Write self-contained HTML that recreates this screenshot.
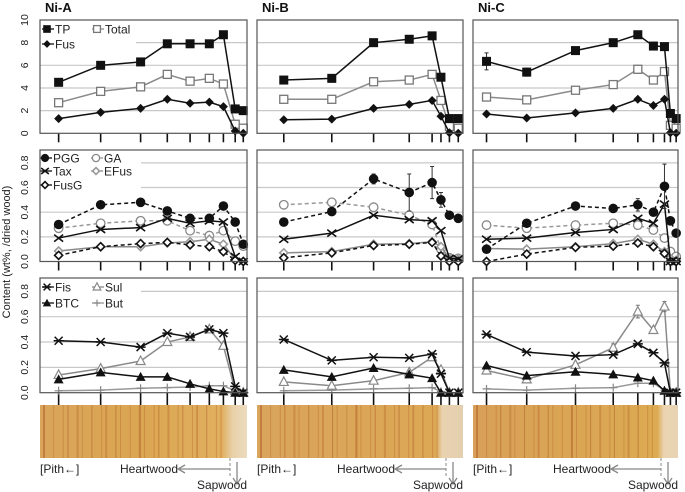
<!DOCTYPE html>
<html><head><meta charset="utf-8">
<style>
html,body{margin:0;padding:0;background:#fff;}
svg{display:block;font-family:"Liberation Sans",sans-serif;}
</style></head>
<body>
<svg id="chart" width="685" height="492" viewBox="0 0 685 492" xmlns="http://www.w3.org/2000/svg">
<defs>
<linearGradient id="woodA" x1="0" x2="1" y1="0" y2="0">
<stop offset="0" stop-color="#d9a55a"/><stop offset="0.5" stop-color="#dba652"/><stop offset="0.88" stop-color="#e0b060"/><stop offset="0.93" stop-color="#e8d0a8"/><stop offset="1" stop-color="#ecdcc0"/>
</linearGradient>
<linearGradient id="woodB" x1="0" x2="1" y1="0" y2="0">
<stop offset="0" stop-color="#d9a45c"/><stop offset="0.87" stop-color="#dca855"/><stop offset="0.9" stop-color="#e8d2b0"/><stop offset="1" stop-color="#e4cfb0"/>
</linearGradient>
<linearGradient id="woodC" x1="0" x2="1" y1="0" y2="0">
<stop offset="0" stop-color="#d8a058"/><stop offset="0.9" stop-color="#dcaa52"/><stop offset="0.93" stop-color="#ead4b0"/><stop offset="1" stop-color="#e8d4b4"/>
</linearGradient>
</defs>
</svg>
<script>
// ---- data ----
const panelNames = ["Ni-A","Ni-B","Ni-C"];
const distA = [9,29.3,48.6,61.5,72.5,81.8,88.6,94.3,98.2];
const distB = [13,36.3,56.6,73.9,85,89.3,93.4,97.7];
const distC = [6.6,26.2,50,68.4,80.4,88,93.4,96.3,99.1];
const topTicks = [0,2,4,6,8,10];
const fracTicks = [0.0,0.2,0.4,0.6,0.8];
const fracTickLabels = ["0.0","0.2","0.4","0.6","0.8"];

const tpA=[4.5,6.0,6.3,7.9,7.9,7.9,8.7,2.15,2.0];
const totalA=[2.7,3.7,4.1,5.2,4.6,4.85,4.35,0.8,0.45];
const fusA=[1.3,1.85,2.2,3.0,2.65,2.75,2.35,0.2,0.0];
const tpB=[4.7,4.85,8.0,8.3,8.6,4.95,1.3,1.3];
const totalB=[3.0,3.0,4.55,4.7,5.2,2.9,0.6,0.45];
const fusB=[1.2,1.25,2.2,2.55,2.9,1.5,0.05,0.0];
const tpC=[6.35,5.4,7.3,8.0,8.7,7.7,7.65,1.75,1.3];
const tpCerr=[0.75,0.35,0.2,0,0,0,0,0,0];
const totalC=[3.2,2.95,3.8,4.3,5.65,4.7,5.45,0.7,0.45];
const totalCerr=[0,0,0,0,0.35,0,0.35,0,0];
const fusC=[1.7,1.35,1.8,2.2,3.0,2.45,3.0,0.05,0.0];

const pggA=[0.30,0.46,0.48,0.41,0.35,0.35,0.45,0.32,0.14];
const gaA=[0.27,0.31,0.33,0.33,0.25,0.21,0.25,0.165,0.125];
const taxA=[0.19,0.26,0.275,0.35,0.31,0.33,0.32,0.04,0.0];
const efusA=[0.085,0.12,0.12,0.15,0.16,0.18,0.14,0.015,0.0];
const fusgA=[0.05,0.12,0.145,0.155,0.135,0.12,0.08,0.01,0.0];
const pggB=[0.32,0.405,0.67,0.56,0.64,0.50,0.375,0.35];
const pggBerr=[0,0,0.04,0.15,0.13,0.06,0,0];
const gaB=[0.46,0.48,0.44,0.375,0.30,0.10,0.03,0.025];
const taxB=[0.18,0.23,0.375,0.34,0.33,0.25,0.025,0.02];
const efusB=[0.07,0.08,0.14,0.145,0.16,0.12,0.025,0.02];
const fusgB=[0.03,0.07,0.13,0.14,0.155,0.045,0.0,0.0];
const pggC=[0.10,0.31,0.45,0.43,0.46,0.40,0.61,0.33,0.23];
const pggCerr=[0,0,0,0,0.05,0,0.18,0,0];
const gaC=[0.295,0.27,0.295,0.31,0.295,0.255,0.19,0.08,0.04];
const taxC=[0.18,0.19,0.235,0.26,0.35,0.31,0.465,0.0,0.0];
const efusC=[0.105,0.10,0.12,0.145,0.18,0.14,0.08,0.025,0.01];
const fusgC=[0.0,0.06,0.115,0.125,0.15,0.12,0.065,0.0,0.0];

const fisA=[0.41,0.40,0.36,0.47,0.44,0.50,0.47,0.05,0.0];
const sulA=[0.14,0.19,0.25,0.40,0.44,0.50,0.37,0.015,0.0];
const btcA=[0.105,0.16,0.125,0.125,0.07,0.03,0.01,0.0,0.0];
const butA=[0.015,0.02,0.035,0.04,0.045,0.055,0.055,0.015,0.005];
const fisB=[0.42,0.255,0.28,0.275,0.305,0.15,0.0,0.0];
const sulB=[0.085,0.055,0.095,0.16,0.28,0.18,0.0,0.0];
const btcB=[0.18,0.125,0.195,0.145,0.115,0.0,0.0,0.0];
const butB=[0.015,0.02,0.03,0.035,0.04,0.01,0.0,0.0];
const fisC=[0.46,0.32,0.29,0.30,0.385,0.315,0.235,0.0,0.0];
const sulC=[0.175,0.105,0.22,0.355,0.64,0.495,0.68,0.0,0.0];
const sulCerr=[0,0,0,0.03,0.05,0,0.04,0,0];
const btcC=[0.215,0.135,0.165,0.145,0.12,0.095,0.015,0.0,0.0];
const butC=[0.03,0.02,0.035,0.04,0.075,0.075,0.02,0.0,0.0];

// ---- layout ----
const NS="http://www.w3.org/2000/svg";
const svg=document.getElementById('chart');
function el(tag,attrs,parent,text){const e=document.createElementNS(NS,tag);for(const k in attrs)e.setAttribute(k,attrs[k]);if(text!==undefined)e.textContent=text;(parent||svg).appendChild(e);return e;}
const panelX=[[40,247],[257,463],[473,678]];
const rows=[{top:20,bot:133.3,ticks:topTicks,labels:topTicks.map(String),grid:[2,4,6,8]},
            {top:150,bot:261.5,ticks:fracTicks,labels:fracTickLabels,grid:[0.2,0.4,0.6,0.8]},
            {top:278,bot:392.7,ticks:fracTicks,labels:fracTickLabels,grid:[0.2,0.4,0.6,0.8]}];
rows[1].y=v=>261.5-v*123.3;
rows[2].y=v=>392.7-v*126.7;
rows[0].y=v=>133.3-v*11.33;
const dists=[distA,distB,distC];
function xs(p,d){const [l,r]=panelX[p];return l+(r-l)*d/100;}

const GRAY="#8a8a8a";
function marker(g,type,x,y,col,sc){
  sc=sc||1;
  let m;
  switch(type){
    case 'sqF': m=el('rect',{x:x-4.5*sc,y:y-4.5*sc,width:9*sc,height:9*sc,fill:'#111'},g);break;
    case 'sqO': m=el('rect',{x:x-4*sc,y:y-4*sc,width:8*sc,height:8*sc,fill:'#fff',stroke:'#777','stroke-width':1.3},g);break;
    case 'diF': m=el('path',{d:`M${x},${y-4.5*sc}L${x+4.5*sc},${y}L${x},${y+4.5*sc}L${x-4.5*sc},${y}Z`,fill:'#111'},g);break;
    case 'diO': m=el('path',{d:`M${x},${y-4*sc}L${x+4*sc},${y}L${x},${y+4*sc}L${x-4*sc},${y}Z`,fill:'#fff',stroke:col,'stroke-width':1.6},g);break;
    case 'ciF': m=el('circle',{cx:x,cy:y,r:4.8*sc,fill:'#111'},g);break;
    case 'ciO': m=el('circle',{cx:x,cy:y,r:4.3*sc,fill:'#fff',stroke:'#888','stroke-width':1.3},g);break;
    case 'x': m=el('path',{d:`M${x-4.5*sc},${y-3.5*sc}L${x+4.5*sc},${y+3.5*sc}M${x-4.5*sc},${y+3.5*sc}L${x+4.5*sc},${y-3.5*sc}`,stroke:'#111','stroke-width':1.6},g);break;
    case 'ast': m=el('path',{d:`M${x-4*sc},${y-4*sc}L${x+4*sc},${y+4*sc}M${x-4*sc},${y+4*sc}L${x+4*sc},${y-4*sc}M${x-5*sc},${y}L${x+5*sc},${y}`,stroke:'#111','stroke-width':1.5},g);break;
    case 'trF': m=el('path',{d:`M${x},${y-5*sc}L${x+5*sc},${y+4*sc}L${x-5*sc},${y+4*sc}Z`,fill:'#111'},g);break;
    case 'trO': m=el('path',{d:`M${x},${y-5*sc}L${x+4.5*sc},${y+3.5*sc}L${x-4.5*sc},${y+3.5*sc}Z`,fill:'#fff',stroke:'#888','stroke-width':1.2},g);break;
    case 'plus': m=el('path',{d:`M${x-4*sc},${y}L${x+4*sc},${y}M${x},${y-4*sc}L${x},${y+4*sc}`,stroke:'#888','stroke-width':1.2},g);break;
  }
  return m;
}
const styles={
 TP:{c:'#111',dash:null,m:'sqF'}, Total:{c:GRAY,dash:null,m:'sqO'}, Fus:{c:'#111',dash:null,m:'diF'},
 PGG:{c:'#111',dash:'4,3',m:'ciF'}, GA:{c:'#999',dash:'4,3',m:'ciO'}, Tax:{c:'#111',dash:null,m:'x'},
 EFus:{c:GRAY,dash:null,m:'diO',mc:'#999'}, FusG:{c:'#111',dash:'4,3',m:'diO',mc:'#111'},
 Fis:{c:'#111',dash:null,m:'ast'}, Sul:{c:GRAY,dash:null,m:'trO'}, BTC:{c:'#111',dash:null,m:'trF'}, But:{c:'#999',dash:null,m:'plus'}
};
const series=[
 [ [['Total',totalA],['Fus',fusA],['TP',tpA]], [['Total',totalB],['Fus',fusB],['TP',tpB]], [['Total',totalC,totalCerr],['Fus',fusC],['TP',tpC,tpCerr]] ],
 [ [['GA',gaA],['EFus',efusA],['FusG',fusgA],['Tax',taxA],['PGG',pggA]], [['GA',gaB],['EFus',efusB],['FusG',fusgB],['Tax',taxB],['PGG',pggB,pggBerr]], [['GA',gaC],['EFus',efusC],['FusG',fusgC],['Tax',taxC],['PGG',pggC,pggCerr]] ],
 [ [['But',butA],['Sul',sulA],['BTC',btcA],['Fis',fisA]], [['But',butB],['Sul',sulB],['BTC',btcB],['Fis',fisB]], [['But',butC],['Sul',sulC,sulCerr],['BTC',btcC],['Fis',fisC]] ]
];

const yt=el('text',{x:10,y:252,'font-size':11,fill:'#222','text-anchor':'middle',transform:'rotate(-90 10 252)'},svg,'Content (wt%, /dried wood)');



for(let p=0;p<3;p++){
  const [l,r]=panelX[p];
  const t=el('text',{x:l+5,y:12,'font-size':13,'font-weight':'bold',fill:'#111'},svg,panelNames[p]);
  
  
  for(let ri=0;ri<3;ri++){
    const row=rows[ri];
    const g=el('g',{},svg);
    
    
    el('rect',{x:l,y:row.top,width:r-l,height:row.bot-row.top,fill:'#fff'},g);
    row.grid.forEach(v=>{const gl=el('line',{x1:l,x2:r,y1:row.y(v),y2:row.y(v),stroke:'#c8c8c8','stroke-width':1.2},g);
      });
    const tickLen = ri===2 ? 12.5 : 9;
    dists[p].forEach(d=>{const tk=el('line',{x1:xs(p,d),x2:xs(p,d),y1:row.bot,y2:row.bot+tickLen,stroke:'#111','stroke-width':1.6},g);
      });
    if(p===0){
      const lg=el('g',{},g);
      
      
      let items;
      if(ri===0) items=[['TP',48,29],['Total',98,29],['Fus',48,44]];
      else if(ri===1) items=[['PGG',46,158],['GA',97,158],['Tax',46,171],['EFus',97,171],['FusG',46,185]];
      else items=[['Fis',48,287],['Sul',98,287],['BTC',48,303],['But',98,303]];
      el('rect',{x:l+1,y:row.top+1,width:ri===0?95:100,height:ri===1?40:32,fill:'#fff'},lg);
      items.forEach(([n,x,y])=>{
        const s=styles[n];
        const e=el('g',{},lg);
        
        
        el('line',{x1:x-6,x2:x+6,y1:y,y2:y,stroke:s.c,'stroke-width':1.3},e);
        marker(e,s.m,x-1,y,s.mc||s.c,0.85);
        el('text',{x:x+7,y:y+4.5,'font-size':12,fill:'#222'},e,n);
      });
    }
    series[ri][p].forEach(([n,vals,errs])=>{
      const s=styles[n];
      const sg=el('g',{},g);
      
      
      const pts=vals.map((v,i)=>[xs(p,dists[p][i]),row.y(v)]);
      const ln=el('polyline',{points:pts.map(q=>q.join(',')).join(' '),fill:'none',stroke:s.c,'stroke-width':1.5},sg);
      if(s.dash) ln.setAttribute('stroke-dasharray',s.dash);
      if(errs) errs.forEach((e,i)=>{ if(e>0){
        const x=pts[i][0],y1=row.y(vals[i]+e),y2=row.y(vals[i]-e);
        el('path',{d:`M${x},${y1}L${x},${y2}M${x-2},${y1}L${x+2},${y1}M${x-2},${y2}L${x+2},${y2}`,stroke:s.c==='#111'?'#333':'#777','stroke-width':1},sg);
      }});
      pts.forEach(([x,y])=>{const m=marker(sg,s.m,x,y,s.mc||s.c);
        
        });
    });
    const bx=el('rect',{x:l,y:row.top,width:r-l,height:row.bot-row.top,fill:'none',stroke:'#555','stroke-width':1.2},g);
    
    
    if(p===0){
      row.ticks.forEach((v,i)=>{
        const y=row.y(v);
        const tl=el('text',{x:28,y:y,'font-size':10.5,fill:'#222','text-anchor':'middle',transform:`rotate(-90 28 ${y})`},svg,row.labels[i]);
        
        
      });
    }
  }
  const wg=el('g',{},svg);
  
  
  el('rect',{x:l,y:405,width:r-l,height:53,fill:`url(#wood${'ABC'[p]})`},wg);
  for(let k=0;k<26;k++){
    const sx=l+4+k*(r-l-8)/26+((k*7)%5);
    if(sx>r-18) break;
    el('line',{x1:sx,x2:sx,y1:405,y2:458,stroke:(k%3===0)?'#b0602a':'#c07838','stroke-width':(k%4===0)?2:1,opacity:0.55},wg);
  }
  const ag=el('g',{},svg);
  
  
  el('text',{x:l,y:473,'font-size':12,fill:'#222'},ag,'[Pith\u2190]');
  el('text',{x:l+80,y:473,'font-size':12,fill:'#222'},ag,'Heartwood');
  const dx=r-17;
  el('line',{x1:dx,x2:dx,y1:458,y2:476,stroke:'#888','stroke-width':1,'stroke-dasharray':'3,2'},ag);
  el('path',{d:`M${dx},469L${l+138},469M${l+145},465L${l+138},469L${l+145},473`,stroke:'#888','stroke-width':1.3,fill:'none'},ag);
  el('path',{d:`M${r-10},462L${r-10},484M${r-14},478L${r-10},484L${r-6},478`,stroke:'#888','stroke-width':1.3,fill:'none'},ag);
  el('text',{x:r,y:489,'font-size':12,fill:'#222','text-anchor':'end'},ag,'Sapwood');
}
</script>
</body></html>
